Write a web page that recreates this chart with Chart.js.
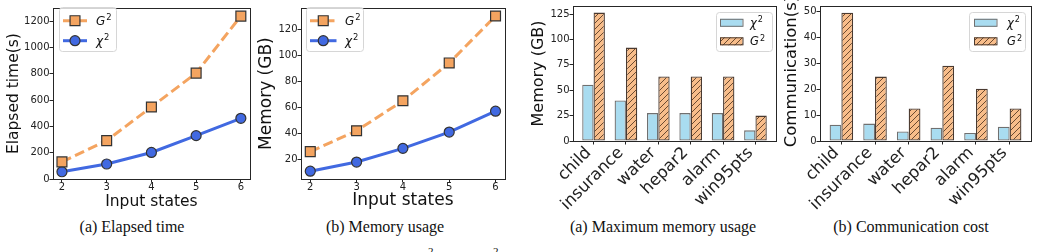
<!DOCTYPE html>
<html>
<head>
<meta charset="utf-8">
<script src="https://cdn.jsdelivr.net/npm/chart.js@4.4.1/dist/chart.umd.min.js"></script>
<style>
  html, body { margin: 0; padding: 0; background: #fff; }
  body { width: 1038px; height: 252px; position: relative; overflow: hidden; }
  canvas { position: absolute; top: 0; }
  .cap { position: absolute; top: 219px; line-height: 16px; font-family: "Liberation Serif", serif; font-size: 16px; color: #111; white-space: nowrap; transform: translateX(-50%); }
  .sup { position: absolute; top: 246px; line-height: 11px; font-family: "Liberation Serif", serif; font-size: 11px; color: #111; }
</style>
</head>
<body>
<canvas id="c1" width="258" height="212" style="left:0px"></canvas>
<canvas id="c2" width="256" height="212" style="left:257px"></canvas>
<canvas id="c3" width="253" height="212" style="left:528px"></canvas>
<canvas id="c4" width="257" height="212" style="left:781px"></canvas>
<div class="cap" style="left:132px">(a) Elapsed time</div>
<div class="cap" style="left:385px">(b) Memory usage</div>
<div class="cap" style="left:663px">(a) Maximum memory usage</div>
<div class="cap" style="left:911px">(b) Communication cost</div>
<div class="sup" style="left:428px">2</div>
<div class="sup" style="left:493px">2</div>
<script>
// data
const inputStates = [2, 3, 4, 5, 6];
const timeG2 = [130, 292, 548, 806, 1240];
const timeChi2 = [55, 114, 202, 330, 462];
const memG2 = [26, 42, 65, 94, 130];
const memChi2 = [11, 18, 28.5, 41, 57];

const networks = ['child', 'insurance', 'water', 'hepar2', 'alarm', 'win95pts'];
const maxMemChi2 = [55.5, 40, 27.5, 27.5, 27.5, 10.5];
const maxMemG2 = [126.5, 92, 63.5, 63.5, 63.5, 25];
const commChi2 = [6.3, 6.7, 3.7, 5.1, 3.1, 5.5];
const commG2 = [49.4, 24.8, 12.5, 29, 20.1, 12.5];

const timeTicks = [0, 200, 400, 600, 800, 1000, 1200];
const memTicks = [20, 40, 60, 80, 100, 120];
const maxMemTicks = [0, 25, 50, 75, 100, 125];
const commTicks = [0, 10, 20, 30, 40, 50];

const FONT = '"DejaVu Sans", sans-serif';
Chart.defaults.font.family = FONT;
Chart.defaults.color = '#222';
Chart.defaults.animation = false;

const ORANGE = '#F4A460';
const BLUE = '#4169E1';
const INK = '#262626';

function makeHatch(fill, line) {
  const t = document.createElement('canvas');
  t.width = t.height = 6;
  const g = t.getContext('2d');
  g.fillStyle = fill;
  g.fillRect(0, 0, 6, 6);
  g.strokeStyle = line;
  g.lineWidth = 1;
  g.beginPath();
  g.moveTo(0, 6); g.lineTo(6, 0);
  g.moveTo(-1, 1); g.lineTo(1, -1);
  g.moveTo(5, 7); g.lineTo(7, 5);
  g.stroke();
  return g.createPattern(t, 'repeat');
}
const hatch = makeHatch('#F8BD8A', '#6b4a30');

// full box around the plot area
const framePlugin = {
  id: 'frame',
  afterDatasetsDraw(chart) {
    const {ctx, chartArea: a} = chart;
    ctx.save();
    ctx.strokeStyle = INK;
    ctx.lineWidth = 1;
    ctx.strokeRect(Math.round(a.left) + 0.5, Math.round(a.top) + 0.5,
      Math.round(a.right - a.left), Math.round(a.bottom - a.top));
    ctx.restore();
  }
};

// y title drawn by hand so long titles are not squeezed
const yTitlePlugin = {
  id: 'yTitle',
  afterDraw(chart, args, opts) {
    const {ctx, chartArea: a} = chart;
    const cy = opts.y != null ? opts.y : (a.top + a.bottom) / 2;
    ctx.save();
    ctx.translate(opts.x, cy);
    ctx.rotate(-Math.PI / 2);
    ctx.font = opts.size + 'px ' + FONT;
    ctx.fillStyle = '#111';
    ctx.textAlign = 'center';
    ctx.textBaseline = 'middle';
    ctx.fillText(opts.text, 0, 0);
    ctx.restore();
  }
};

function drawSymbol(ctx, label, x, y, size) {
  const base = label.replace('²', '');
  const baseline = y + size * 0.36;
  ctx.fillStyle = '#111';
  ctx.textAlign = 'left';
  ctx.textBaseline = 'alphabetic';
  ctx.font = 'italic ' + size + 'px ' + FONT;
  ctx.fillText(base, x, baseline);
  const w = ctx.measureText(base).width;
  ctx.font = (size * 0.7) + 'px ' + FONT;
  ctx.fillText('2', x + w + 1, baseline - size * 0.42);
}

// matplotlib-like legend
const keyPlugin = {
  id: 'key',
  afterDraw(chart, args, opts) {
    const {ctx} = chart;
    const b = opts.box;
    ctx.save();
    ctx.beginPath();
    ctx.roundRect(b[0] + 0.5, b[1] + 0.5, b[2] - b[0], b[3] - b[1], 3);
    ctx.fillStyle = 'rgba(255,255,255,0.8)';
    ctx.fill();
    ctx.strokeStyle = '#d6d6d6';
    ctx.lineWidth = 1;
    ctx.stroke();
    chart.data.datasets.forEach((ds, i) => {
      const y = opts.rows[i];
      if (opts.kind === 'line') {
        ctx.strokeStyle = ds.borderColor;
        ctx.lineWidth = ds.borderWidth;
        ctx.setLineDash(ds.borderDash || []);
        ctx.beginPath();
        ctx.moveTo(opts.x0, y);
        ctx.lineTo(opts.x1, y);
        ctx.stroke();
        ctx.setLineDash([]);
        const cx = (opts.x0 + opts.x1) / 2;
        ctx.fillStyle = ds.pointBackgroundColor;
        ctx.strokeStyle = ds.pointBorderColor;
        ctx.lineWidth = ds.pointBorderWidth;
        ctx.beginPath();
        if (ds.pointStyle === 'rect') {
          const h = ds.pointRadius * Math.SQRT1_2;
          ctx.rect(cx - h, y - h, 2 * h, 2 * h);
        } else {
          ctx.arc(cx, y, ds.pointRadius, 0, Math.PI * 2);
        }
        ctx.fill();
        ctx.stroke();
      } else {
        ctx.fillStyle = ds.backgroundColor;
        ctx.fillRect(opts.x0, y - 4, opts.x1 - opts.x0, 8);
        ctx.strokeStyle = ds.borderColor;
        ctx.lineWidth = 1;
        ctx.strokeRect(opts.x0 + 0.5, y - 3.5, opts.x1 - opts.x0, 7);
      }
      drawSymbol(ctx, ds.label, opts.tx, y, opts.size);
    });
    ctx.restore();
  }
};

const plainNumber = v => String(v);

function tickAxis(extra) {
  return Object.assign({
    type: 'linear',
    offset: false,
    grid: { display: true, drawOnChartArea: false, offset: false, color: INK, tickLength: 3.5, tickWidth: 1 },
    border: { display: false }
  }, extra);
}

function lineChart(id, g2, chi2, yTicks, yMin, yMax, o) {
  return new Chart(document.getElementById(id), {
    type: 'line',
    data: {
      datasets: [{
        label: 'G²',
        data: inputStates.map((x, i) => ({x: x, y: g2[i]})),
        borderColor: ORANGE, borderWidth: 3, borderDash: [10, 4.5],
        pointStyle: 'rect', pointRadius: 7,
        pointBackgroundColor: ORANGE, pointBorderColor: '#333', pointBorderWidth: 1.2,
        tension: 0
      }, {
        label: 'χ²',
        data: inputStates.map((x, i) => ({x: x, y: chi2[i]})),
        borderColor: BLUE, borderWidth: 3,
        pointStyle: 'circle', pointRadius: 5,
        pointBackgroundColor: BLUE, pointBorderColor: '#333', pointBorderWidth: 1.2,
        tension: 0
      }]
    },
    options: {
      responsive: false,
      layout: { padding: { left: 0, right: o.padRight, top: 6, bottom: 0 } },
      plugins: {
        legend: { display: false },
        tooltip: { enabled: false },
        yTitle: { text: o.yTitle, x: o.titleX, size: o.titleSize },
        key: o.key
      },
      scales: {
        x: tickAxis({
          min: 1.8, max: 6.2,
          afterBuildTicks: ax => { ax.ticks = inputStates.map(v => ({value: v})); },
          afterFit: s => { s.height = 33; },
          ticks: { font: { size: 10, lineHeight: 1 }, padding: 0, maxRotation: 0, callback: plainNumber },
          title: { display: true, text: 'Input states', color: '#111',
                   font: { size: o.titleSize, lineHeight: 1.2 }, padding: { top: 0, bottom: 1 } }
        }),
        y: tickAxis({
          min: yMin, max: yMax,
          afterBuildTicks: ax => { ax.ticks = yTicks.map(v => ({value: v})); },
          afterFit: s => { s.width = o.axisW; },
          ticks: { font: { size: 10, lineHeight: 1 }, padding: 0, callback: plainNumber }
        })
      }
    },
    plugins: [framePlugin, yTitlePlugin, keyPlugin]
  });
}

function barChart(id, chi2, g2, yTicks, yMax, o) {
  return new Chart(document.getElementById(id), {
    type: 'bar',
    data: {
      datasets: [{
        label: 'χ²',
        data: networks.map((_, i) => ({x: i, y: chi2[i]})),
        backgroundColor: '#A9DCF0', borderColor: '#707070', borderWidth: 1.3,
        borderSkipped: false, categoryPercentage: 0.7, barPercentage: 1
      }, {
        label: 'G²',
        data: networks.map((_, i) => ({x: i, y: g2[i]})),
        backgroundColor: hatch, borderColor: '#4a3a30', borderWidth: 1.3,
        borderSkipped: false, categoryPercentage: 0.7, barPercentage: 1
      }]
    },
    options: {
      responsive: false,
      layout: { padding: { left: 0, right: o.padRight, top: 6, bottom: 0 } },
      plugins: {
        legend: { display: false },
        tooltip: { enabled: false },
        yTitle: { text: o.yTitle, x: o.titleX, y: o.titleY, size: o.titleSize },
        key: o.key
      },
      scales: {
        x: tickAxis({
          min: -0.635, max: 5.635,
          afterBuildTicks: ax => { ax.ticks = networks.map((_, i) => ({value: i})); },
          afterFit: s => { s.height = 71; },
          ticks: { font: { size: 16.5, lineHeight: 1 }, padding: 0, autoSkip: false, labelOffset: -5,
                   minRotation: 45, maxRotation: 45, callback: v => networks[v] }
        }),
        y: tickAxis({
          min: 0, max: yMax,
          afterBuildTicks: ax => { ax.ticks = yTicks.map(v => ({value: v})); },
          afterFit: s => { s.width = o.axisW; },
          ticks: { font: { size: 10, lineHeight: 1 }, padding: 0, callback: plainNumber }
        })
      }
    },
    plugins: [framePlugin, yTitlePlugin, keyPlugin]
  });
}

lineChart('c1', timeG2, timeChi2, timeTicks, 0, 1300, {
  padRight: 7, axisW: 53, yTitle: 'Elapsed time(s)', titleX: 13.5, titleSize: 15.5,
  key: { kind: 'line', box: [59, 7, 116, 51], rows: [20.7, 40.7], x0: 63, x1: 87, tx: 96, size: 12 }
});
lineChart('c2', memG2, memChi2, memTicks, 5, 136, {
  padRight: 8, axisW: 44, yTitle: 'Memory (GB)', titleX: 9.5, titleSize: 17,
  key: { kind: 'line', box: [49, 7, 106, 51], rows: [20.7, 40.7], x0: 53, x1: 79.5, tx: 88, size: 12 }
});
barChart('c3', maxMemChi2, maxMemG2, maxMemTicks, 133, {
  padRight: 5, axisW: 45, yTitle: 'Memory (GB)', titleX: 11, titleSize: 16,
  key: { kind: 'bar', box: [188, 12, 244, 51], rows: [22.8, 41.3], x0: 192, x1: 214.5, tx: 222, size: 11.5 }
});
barChart('c4', commChi2, commG2, commTicks, 52, {
  padRight: 7, axisW: 39, yTitle: 'Communication(s)', titleX: 11, titleY: 71.5, titleSize: 16.5,
  key: { kind: 'bar', box: [188, 12, 244, 51], rows: [22.8, 41.3], x0: 193, x1: 215.5, tx: 226, size: 11.5 }
});
</script>
</body>
</html>
